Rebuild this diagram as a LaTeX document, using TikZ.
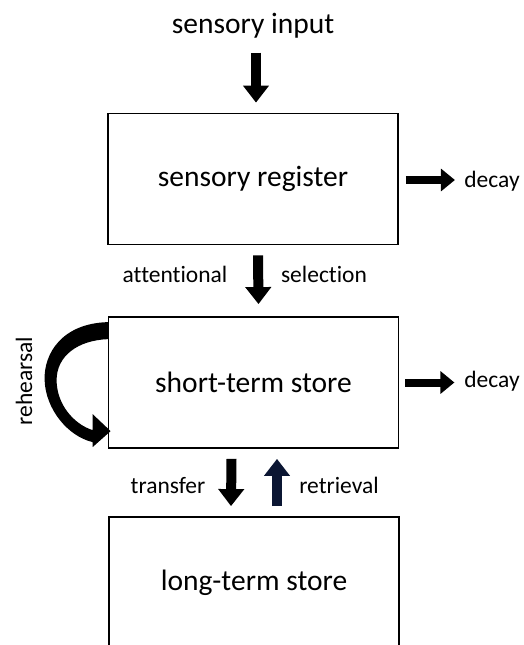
\documentclass[tikz,border=0pt]{standalone}
\usepackage{fontspec}
\setmainfont{Carlito}[Ligatures=NoCommon]
\usetikzlibrary{arrows.meta,calc}
\definecolor{navyblue}{HTML}{0B1633}
\begin{document}
\begin{tikzpicture}[x=1pt,y=-1pt,
  box/.style={draw=black, line width=1.8pt, minimum width=290pt, minimum height=131pt, inner sep=0pt, font=\fontsize{29.5}{33}\selectfont},
  lbl/.style={font=\fontsize{23.5}{27}\selectfont, inner sep=0pt},
  big/.style={font=\fontsize{29.5}{33}\selectfont, inner sep=0pt},
  varrow/.style={line width=10pt, -{Triangle[length=17pt,width=25pt]}},
  harrow/.style={line width=8pt, -{Triangle[length=14pt,width=22pt]}},
]
\useasboundingbox (0,0) rectangle (523,645);
\node[box] (sr) at (253,179) {sensory register};
\node[box] (st) at (253.5,382.5) {short-term store};
\node[box, minimum height=132pt] (lt) at (254,583) {long-term store};
\node[big, anchor=base] (si) at (253,33) {sensory input};
\node[lbl, anchor=base] (d1) at (492,187) {decay};
\node[lbl, anchor=base] (d2) at (492,387) {decay};
\node[lbl, anchor=base] (at) at (175,282) {attentional};
\node[lbl, anchor=base] (se) at (324,282) {selection};
\node[lbl, anchor=base] (tr) at (168,493) {transfer};
\node[lbl, anchor=base] (re) at (339,493) {retrieval};
\node[lbl, rotate=90] (rh) at (24,381) {rehearsal};

\draw[varrow] ($(sr.north)+(3,-60)$) -- ($(sr.north)+(3,-10)$);
\draw[varrow] ($(sr.south)+(5,10)$) -- ($(st.north)+(5,-12)$);
\draw[harrow] ($(sr.east)+(7,1)$) -- ($(sr.east)+(56,1)$);
\draw[harrow] ($(st.east)+(6,0)$) -- ($(st.east)+(55,0)$);
\draw[varrow] ($(st.south)+(-22,10)$) -- ($(lt.north)+(-23,-10)$);
\draw[varrow, navyblue] ($(lt.north)+(23,-10)$) -- ($(st.south)+(23.5,10)$);

\fill[shift={(st.north west)}] (1,6) .. controls (-46,7) and (-64,38) .. (-63,64)
  .. controls (-62,93) and (-40,120) .. (-15,126) -- (-15,131) -- (3,115) -- (-15,98) -- (-15,114)
  .. controls (-34,108) and (-51,88) .. (-51,64) .. controls (-51,40) and (-30,24) .. (1,23) -- cycle;
\end{tikzpicture}
\end{document}
